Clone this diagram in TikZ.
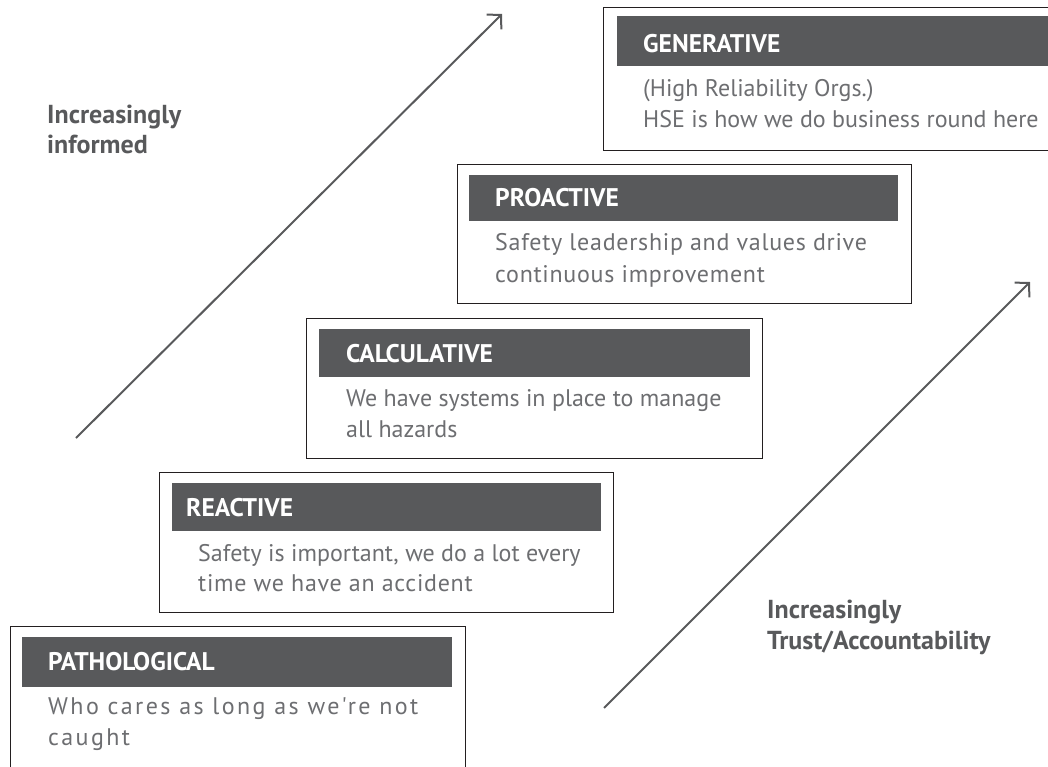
\documentclass[tikz,border=0pt]{standalone}
\usepackage{fontspec}
\setmainfont{PT Sans}
\newfontfamily\plainfont{PT Sans}
\newfontfamily\loosefont[LetterSpace=3]{PT Sans}
\newfontfamily\widefont[LetterSpace=10]{PT Sans}
\usetikzlibrary{arrows.meta}
\definecolor{hdr}{HTML}{58595B}
\definecolor{bodytxt}{HTML}{6D6E71}
\definecolor{edge}{HTML}{231F20}
\begin{document}
\begin{tikzpicture}[x=1pt,y=-1pt,
  stagebox/.style={draw=edge, line width=1.3pt, fill=white, rectangle, inner sep=0pt,
                   anchor=north west, minimum width=455pt, minimum height=140pt},
  headbar/.style={fill=hdr, rectangle, inner sep=0pt, anchor=north west,
                  minimum width=430pt, minimum height=48pt},
  headtext/.style={text=white, font=\fontsize{25.5}{25.5}\selectfont\bfseries, anchor=base west, inner sep=0pt},
  bodytext/.style={text=bodytxt, font=\fontsize{24}{24}\selectfont\plainfont, anchor=base west, inner sep=0pt},
  loosebody/.style={bodytext, font=\fontsize{24}{24}\selectfont\loosefont},
  widebody/.style={bodytext, font=\fontsize{24}{24}\selectfont\widefont},
  sidelabel/.style={text=hdr, font=\fontsize{26}{26}\selectfont\bfseries, anchor=base west, inner sep=0pt},
  trend/.style={draw=hdr, line width=2pt, -{Straight Barb[length=10pt,width=21pt,line width=2pt]}}]
\useasboundingbox (0,0) rectangle (1048,767);
\clip (0,0) rectangle (1048,767);

% side labels
\node[sidelabel] (infA) at (47,124) {Increasingly};
\node[sidelabel] (infB) at (47,154) {informed};
\node[sidelabel] (trA) at (767,618) {Increasingly};
\node[sidelabel] (trB) at (767,649) {Trust/Accountability};

% trend arrows
\coordinate (infStart) at (76,438);
\coordinate (infEnd) at (502,14);
\coordinate (trStart) at (604,708);
\coordinate (trEnd) at (1030,282);
\draw[trend] (infStart) -- (infEnd);
\draw[trend] (trStart) -- (trEnd);

% generative
\node[stagebox, minimum width=470pt, minimum height=143pt] (genBox) at (603,7) {};
\node[headbar, minimum width=450pt, minimum height=50pt] (genHead) at (617,16) {};
\node[headtext] (genTitle) at (643,53) {GENERATIVE};
\node[bodytext] (genL1) at (643,97) {(High Reliability Orgs.)};
\node[bodytext] (genL2) at (643,128) {HSE is how we do business round here};

% proactive
\node[stagebox, minimum width=454pt, minimum height=139pt] (proBox) at (457,164) {};
\node[headbar, minimum width=429pt, minimum height=46pt] (proHead) at (469,175) {};
\node[headtext] (proTitle) at (495,207) {PROACTIVE};
\node[loosebody] (proL1) at (495,251) {Safety leadership and values drive};
\node[loosebody] (proL2) at (495,282) {continuous improvement};

% calculative
\node[stagebox, minimum width=456pt, minimum height=140pt] (calBox) at (306,318) {};
\node[headbar, minimum width=431pt, minimum height=48pt] (calHead) at (319,329) {};
\node[headtext] (calTitle) at (346,362) {CALCULATIVE};
\node[bodytext] (calL1) at (346,406) {We have systems in place to manage};
\node[bodytext] (calL2) at (346,437) {all hazards};

% reactive
\node[stagebox, minimum width=454pt, minimum height=140pt] (reaBox) at (159,472) {};
\node[headbar, minimum width=429pt, minimum height=48pt] (reaHead) at (172,483) {};
\node[headtext] (reaTitle) at (186,516) {REACTIVE};
\node[bodytext] (reaL1) at (198,561) {Safety is important, we do a lot every};
\node[loosebody] (reaL2) at (198,591) {time we have an accident};

% pathological
\node[stagebox, minimum width=455pt, minimum height=160pt] (patBox) at (10,626) {};
\node[headbar, minimum width=430pt, minimum height=50pt] (patHead) at (22,637) {};
\node[headtext] (patTitle) at (48,670) {PATHOLOGICAL};
\node[widebody] (patL1) at (48,714) {Who cares as long as we're not};
\node[widebody] (patL2) at (48,745) {caught};
\end{tikzpicture}
\end{document}
